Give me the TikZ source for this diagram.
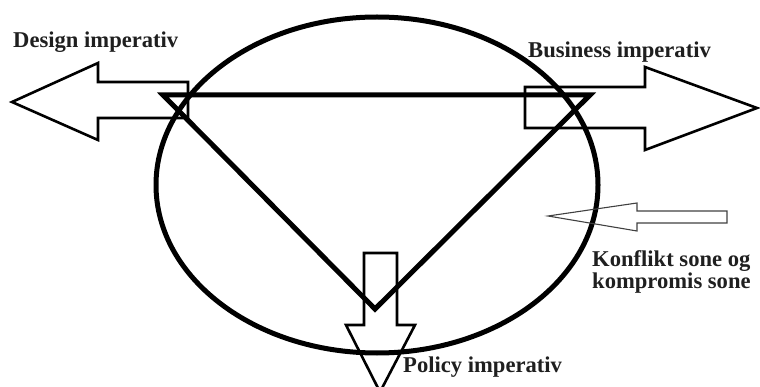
\documentclass[tikz,border=0pt]{standalone}
\usepackage{fontspec}
\setmainfont{Liberation Serif}
\usetikzlibrary{positioning}
\tikzset{
  zone/.style={draw=black, line width=5pt},
  triline/.style={draw=black, line width=5pt, line join=miter},
  bigarrow/.style={draw=black, line width=2.6pt, line join=miter},
  thinarrow/.style={draw=black!75, line width=1.1pt, line join=miter},
  lbl/.style={font=\bfseries\fontsize{22.6}{21}\selectfont, text=black!88, inner sep=0pt, align=left}
}
\begin{document}
\begin{tikzpicture}[x=1pt, y=-1pt]
\useasboundingbox (0,0) rectangle (760,387);
% ellipse
\draw[zone] (377,185) ellipse [x radius=221, y radius=168];
% triangle
\draw[triline] (163,95) -- (590,95) -- (375,309) -- cycle;
% design arrow
\draw[bigarrow] (188,82) -- (98,82) -- (98,63) -- (12,102) -- (98,140) -- (98,118) -- (188,118) -- cycle;
% business arrow
\draw[bigarrow] (525,87) -- (645,87) -- (645,67) -- (757,108) -- (645,150) -- (645,128) -- (525,128) -- cycle;
% policy arrow
\draw[bigarrow] (364,253) -- (397,253) -- (397,325) -- (415,325) -- (380,392) -- (346,325) -- (364,325) -- cycle;
% konflikt arrow
\draw[thinarrow] (727,211) -- (637,211) -- (637,203) -- (548,216) -- (637,231) -- (637,223) -- (727,223) -- cycle;
% labels
\node[lbl, anchor=base west] (design) at (13,48) {Design imperativ};
\node[lbl, anchor=base west] (business) at (528,58) {Business imperativ};
\node[lbl, anchor=base west] (policy) at (403,372) {Policy imperativ};
\node[lbl, anchor=base west] (konflikt) at (592,288) {Konflikt sone og\\kompromis sone};
\end{tikzpicture}
\end{document}
